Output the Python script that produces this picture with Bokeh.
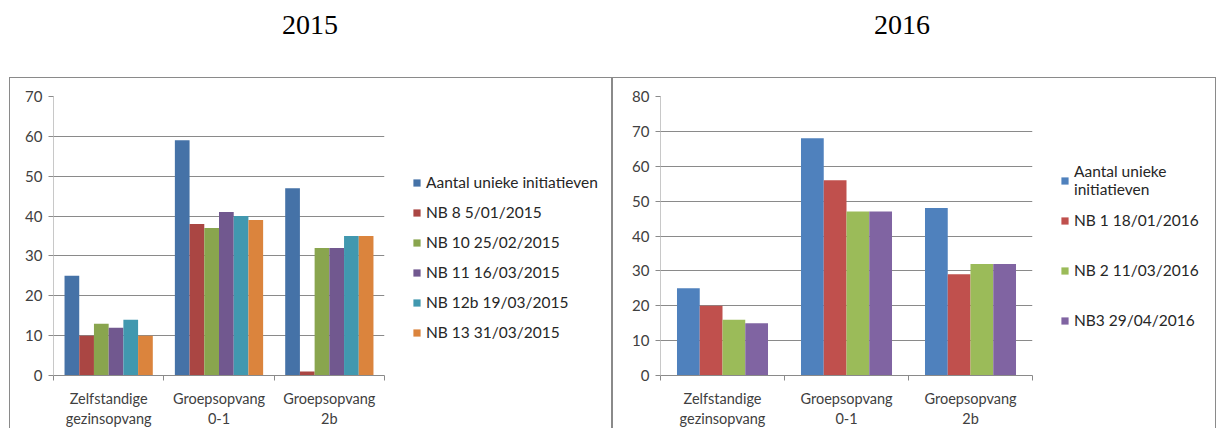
from bokeh.plotting import figure
from bokeh.models import (ColumnDataSource, FixedTicker, Legend, LegendItem, Div,
                          CustomJSTickFormatter, Range1d, Spacer)
from bokeh.layouts import row, column
from bokeh.transform import dodge
from bokeh.embed import file_html
from bokeh.resources import INLINE

# ---------------- data ----------------
categories = ["Zelfstandige\ngezinsopvang", "Groepsopvang\n0-1", "Groepsopvang\n2b"]

series_2015 = ["Aantal unieke initiatieven", "NB 8 5/01/2015", "NB 10 25/02/2015",
               "NB 11 16/03/2015", "NB 12b 19/03/2015", "NB 13 31/03/2015"]
aantal_2015 = [25, 59, 47]
nb8_2015 = [10, 38, 1]
nb10_2015 = [13, 37, 32]
nb11_2015 = [12, 41, 32]
nb12b_2015 = [14, 40, 35]
nb13_2015 = [10, 39, 35]
values_2015 = [aantal_2015, nb8_2015, nb10_2015, nb11_2015, nb12b_2015, nb13_2015]
colors_2015 = ["#4572a7", "#aa4643", "#89a54e", "#71588f", "#4198af", "#db843d"]
yticks_2015 = [0, 10, 20, 30, 40, 50, 60, 70]

series_2016 = ["Aantal unieke\ninitiatieven", "NB 1 18/01/2016", "NB 2 11/03/2016", "NB3 29/04/2016"]
aantal_2016 = [25, 68, 48]
nb1_2016 = [20, 56, 29]
nb2_2016 = [16, 47, 32]
nb3_2016 = [15, 47, 32]
values_2016 = [aantal_2016, nb1_2016, nb2_2016, nb3_2016]
colors_2016 = ["#4f81bd", "#c0504d", "#9bbb59", "#8064a2"]
yticks_2016 = [0, 10, 20, 30, 40, 50, 60, 70, 80]

FONT = "Lato"
TXT = "#404040"
BORDER = "1px solid #8a8a8a"
H = 351


def make_source(values):
    data = {"x": [i + 0.5 for i in range(len(categories))]}
    for k, v in enumerate(values):
        data[f"s{k}"] = v
    return ColumnDataSource(data)


def make_chart(src, n, colors, yticks, group_frac, width, b_left, b_right):
    centers = [i + 0.5 for i in range(len(categories))]
    bounds = [i for i in range(len(categories) + 1)]

    p = figure(output_backend="svg", toolbar_location=None,
               width=width, height=H,
               min_border_left=b_left, min_border_right=b_right,
               min_border_top=18, min_border_bottom=54,
               x_range=Range1d(0, len(categories)),
               y_range=Range1d(yticks[0], yticks[-1]),
               background_fill_color="white", border_fill_color="white",
               styles={"border-left": BORDER, "border-top": BORDER})
    p.outline_line_color = None

    bw = group_frac / n
    for k in range(n):
        off = (k - (n - 1) / 2) * bw
        p.vbar(x=dodge("x", off, range=p.x_range), top=f"s{k}", width=bw,
               source=src, fill_color=colors[k], line_color=None)

    xa = p.xaxis[0]
    xa.ticker = FixedTicker(ticks=centers, minor_ticks=bounds)
    xa.formatter = CustomJSTickFormatter(args=dict(labels=categories),
                                         code="return labels[Math.floor(tick)]")
    xa.major_tick_out = 0
    xa.major_tick_in = 0
    xa.minor_tick_out = 5
    xa.minor_tick_in = 0
    xa.minor_tick_line_color = "#8a8a8a"
    xa.axis_line_color = "#8a8a8a"
    xa.major_label_text_font = FONT
    xa.major_label_text_font_size = "14.5px"
    xa.major_label_text_color = TXT
    xa.major_label_standoff = 9

    ya = p.yaxis[0]
    ya.ticker = FixedTicker(ticks=yticks)
    ya.major_tick_out = 5
    ya.major_tick_in = 0
    ya.minor_tick_out = 0
    ya.minor_tick_in = 0
    ya.major_tick_line_color = "#8a8a8a"
    ya.axis_line_color = "#c8c8c8"
    ya.major_label_text_font = FONT
    ya.major_label_text_font_size = "15px"
    ya.major_label_text_color = TXT
    ya.major_label_standoff = 6

    p.xgrid.visible = False
    p.ygrid.ticker = FixedTicker(ticks=yticks)
    p.ygrid.grid_line_color = "#8a8a8a"
    return p


def make_legend(src, names, colors, width, groups):
    p = figure(output_backend="svg", toolbar_location=None, width=width, height=H,
               min_border=0, x_axis_location=None, y_axis_location=None,
               x_range=Range1d(-3, -2), y_range=Range1d(0, 1),
               background_fill_color="white", border_fill_color="white",
               styles={"border-right": BORDER, "border-top": BORDER})
    p.outline_line_color = None
    p.grid.visible = False
    # the same bars, kept outside this panel's visible range: only their legend shows
    rs = [p.vbar(x="x", top=f"s{k}", width=0.1, source=src, fill_color=c, line_color=None)
          for k, c in enumerate(colors)]
    for idxs, loc, spacing in groups:
        items = [LegendItem(label=names[i], renderers=[rs[i]]) for i in idxs]
        lg = Legend(items=items, location=loc, spacing=spacing,
                    label_height=20, glyph_width=9, glyph_height=9, label_standoff=5,
                    label_text_font=FONT, label_text_font_size="15.5px",
                    label_text_color="#262626", padding=0, margin=0,
                    border_line_color=None, background_fill_alpha=0)
        p.add_layout(lg)
    return p


src15 = make_source(values_2015)
src16 = make_source(values_2016)
c1 = make_chart(src15, len(values_2015), colors_2015, yticks_2015, 0.8, 384, 43, 10)
l1 = make_legend(src15, series_2015, colors_2015, 219, [([0, 1, 2, 3, 4, 5], (19, 33), 10)])
c2 = make_chart(src16, len(values_2016), colors_2016, yticks_2016, 0.734, 429, 47, 10)
l2 = make_legend(src16, series_2016, colors_2016, 175, [([0], (19, 177), 0), ([1, 2, 3], (19, 45), 30)])

title_style = "font-family:'Liberation Serif';font-size:28px;color:#000;text-align:center;padding-top:9px;line-height:32px;"
t1 = Div(text=f'<div style="{title_style}width:602px">2015</div>', width=604, height=77,
         margin=(0, 0, 0, 0))
t2 = Div(text=f'<div style="{title_style}width:578px">2016</div>', width=607, height=77,
         margin=(0, 0, 0, 0))

layout = column(row(Spacer(width=9, height=77), t1, t2),
                row(Spacer(width=9, height=H), c1, l1, c2, l2))
layout.spacing = 0

open("out.html", "w").write(file_html(layout, INLINE))
